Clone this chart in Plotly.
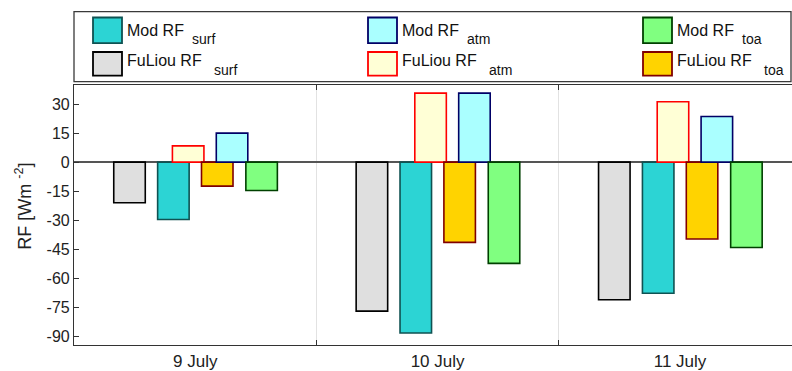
import plotly.graph_objects as go

categories = ["9 July", "10 July", "11 July"]
fuliou_surf = [-21.0, -77.1, -71.2]
mod_surf = [-29.7, -88.4, -67.8]
fuliou_atm = [8.4, 35.7, 31.2]
mod_atm = [15.0, 35.7, 23.6]
fuliou_toa = [-12.4, -41.5, -39.8]
mod_toa = [-14.7, -52.4, -44.2]

y_tickvals = [30, 15, 0, -15, -30, -45, -60, -75, -90]
y_ticktext = ["30", "15", "0", "-15", "-30", "-45", "-60", "-75", "-90"]

FONT = "Arial, Liberation Sans, sans-serif"
W, H = 792, 371
L, R, T, B = 74, 0, 84.5, 22.7
PW, PH = W - L - R, H - T - B

# series: (values, fill, border, bar offset, main label, sub label)
series = [
    (fuliou_surf, "#dfdfdf", "#000000", -0.336, "FuLiou RF", "surf"),
    (mod_surf, "#2cd4d4", "#0f5252", -0.155, "Mod RF", "surf"),
    (fuliou_atm, "#ffffd6", "#ff0000", -0.094, "FuLiou RF", "atm"),
    (fuliou_toa, "#ffd300", "#800000", 0.026, "FuLiou RF", "toa"),
    (mod_atm, "#aaffff", "#000066", 0.087, "Mod RF", "atm"),
    (mod_toa, "#80ff80", "#004000", 0.209, "Mod RF", "toa"),
]

fig = go.Figure()
for vals, fill, line, off, main, sub in series:
    fig.add_trace(go.Bar(
        x=categories, y=vals, width=0.13, offset=off,
        marker=dict(color=fill, line=dict(color=line, width=1.6)),
        name=f"{main} {sub}", showlegend=False,
    ))


def px(xp):
    return (xp - L) / PW


def py(yp):
    return (T + PH - yp) / PH


shapes = [dict(type="rect", xref="paper", yref="paper",
               x0=px(74), x1=px(791), y0=py(81), y1=py(10),
               line=dict(color="#3a3a3a", width=1.3), fillcolor="white")]
annotations = []

legend_layout = [
    # (series index, col x, row)
    (1, 93, 0), (4, 368, 0), (5, 643, 0),
    (0, 93, 1), (2, 368, 1), (3, 643, 1),
]
rows = [(16, 42, 35, 43), (51, 75, 65, 74)]
for idx, cx, r in legend_layout:
    vals, fill, line, off, main, sub = series[idx]
    y0, y1, base, sbase = rows[r]
    shapes.append(dict(type="rect", xref="paper", yref="paper",
                       x0=px(cx), x1=px(cx + 29), y0=py(y1), y1=py(y0),
                       line=dict(color=line, width=1.8), fillcolor=fill))
    annotations.append(dict(xref="paper", yref="paper", x=px(cx + 32),
                            y=py(base - 0.3465 * 16), xanchor="left", yanchor="middle",
                            text=main, showarrow=False,
                            font=dict(family=FONT, size=16, color="#111")))
    soff = 65 if main.startswith("Mod") else 86.5
    annotations.append(dict(xref="paper", yref="paper", x=px(cx + 32 + soff),
                            y=py(sbase - 0.3465 * 14), xanchor="left", yanchor="middle",
                            text=sub, showarrow=False,
                            font=dict(family=FONT, size=14, color="#111")))

annotations.append(dict(xref="paper", yref="paper", x=px(24), y=py(208),
                        xanchor="center", yanchor="middle", textangle=-90,
                        text="RF [Wm <sup>-2</sup>]", showarrow=False,
                        font=dict(family=FONT, size=18, color="#222")))

fig.update_layout(
    width=W, height=H,
    margin=dict(l=L, r=R, t=T, b=B, pad=0),
    paper_bgcolor="white", plot_bgcolor="white",
    barmode="overlay",
    showlegend=False,
    font=dict(family=FONT, color="#222"),
    shapes=shapes, annotations=annotations,
    xaxis=dict(type="category", range=[-0.5, -0.5 + PW / 242.4],
               tickson="boundaries", ticks="inside", ticklen=5,
               tickcolor="#333", showgrid=True, gridcolor="#e2e2e2", gridwidth=1,
               showline=True, linecolor="#333", linewidth=1.2, mirror="ticks",
               tickfont=dict(size=17, family=FONT, color="#222"),
               zeroline=False),
    yaxis=dict(range=[-94.6, 39.9], tickvals=y_tickvals, ticktext=y_ticktext,
               ticks="inside", ticklen=5, tickcolor="#333",
               showgrid=False, showline=True, linecolor="#333", linewidth=1.2,
               zeroline=True, zerolinecolor="#555", zerolinewidth=1.6,
               tickfont=dict(size=16, family=FONT, color="#222")),
)

fig.write_html("out.html")
